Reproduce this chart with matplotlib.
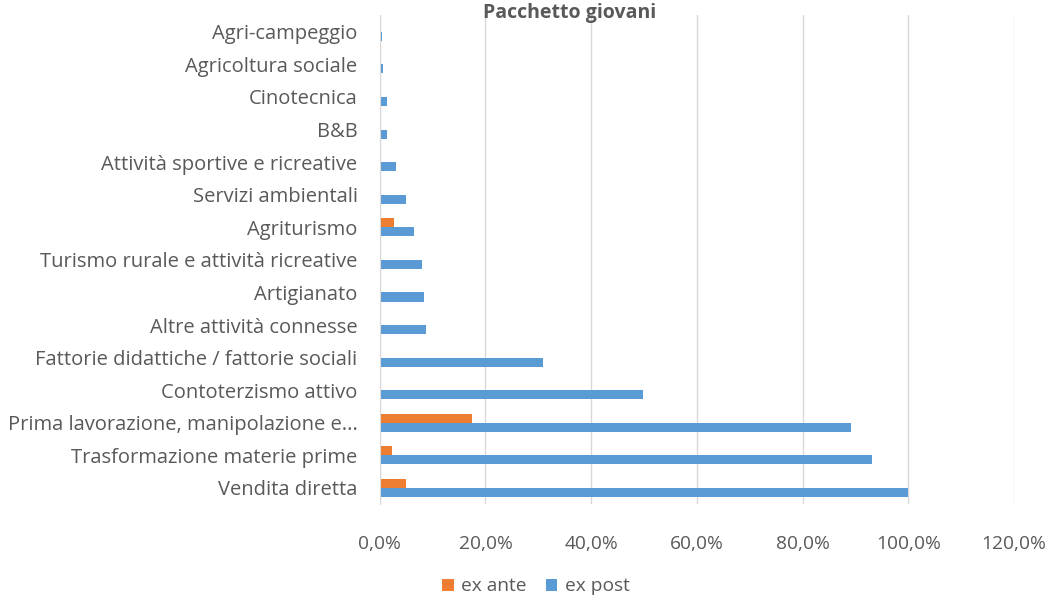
import numpy as np
import matplotlib.pyplot as plt
from matplotlib.ticker import FuncFormatter

plt.rcParams['font.family'] = ['Open Sans', 'DejaVu Sans']

# categories from bottom to top
categories = ['Vendita diretta', 'Trasformazione materie prime',
              'Prima lavorazione, manipolazione e...', 'Contoterzismo attivo',
              'Fattorie didattiche / fattorie sociali', 'Altre attività connesse',
              'Artigianato', 'Turismo rurale e attività ricreative', 'Agriturismo',
              'Servizi ambientali', 'Attività sportive e ricreative', 'B&B',
              'Cinotecnica', 'Agricoltura sociale', 'Agri-campeggio']
ex_ante = [5.0, 2.3, 17.5, 0.3, 0.0, 0.3, 0.0, 0.0, 2.6, 0.0, 0.0, 0.2, 0.0, 0.0, 0.0]
ex_post = [100.0, 93.1, 89.2, 49.9, 30.8, 8.7, 8.3, 8.0, 6.4, 4.9, 3.0, 1.45, 1.45, 0.7, 0.4]
xticks = [0, 20, 40, 60, 80, 100, 120]

grey = '#595959'
fig = plt.figure(figsize=(10.55, 5.96), dpi=100)
ax = fig.add_axes([0.360, 0.154, 0.601, 0.820])

y = np.arange(len(categories))
h = 0.28
ax.barh(y + h / 2, ex_ante, height=h, color='#ED7D31', label='ex ante')
ax.barh(y - h / 2, ex_post, height=h, color='#5B9BD5', label='ex post')

ax.set_xlim(0, 120)
ax.set_ylim(-0.5, len(categories) - 0.5)
ax.set_xticks(xticks)
ax.xaxis.set_major_formatter(FuncFormatter(lambda v, p: ('%.1f%%' % v).replace('.', ',')))
ax.set_yticks(y)
ax.set_yticklabels(categories)
ax.tick_params(axis='both', length=0, labelcolor=grey)
ax.tick_params(axis='y', pad=16, labelsize=14.5)
ax.tick_params(axis='x', pad=22, labelsize=13.8)
ax.grid(axis='x', color='#D9D9D9', linewidth=1)
ax.set_axisbelow(True)
for s in ['top', 'right', 'bottom']:
    ax.spines[s].set_visible(False)
ax.spines['left'].set_color('#D9D9D9')

fig.text(0.54, 0.978, 'Pacchetto giovani', ha='center', va='center',
         fontsize=14, fontweight='bold', color=grey)

fig.legend(loc='center', bbox_to_anchor=(0.508, 0.016), ncol=2, frameon=False,
           fontsize=13.8, labelcolor=grey, handlelength=0.6, handleheight=0.6,
           handletextpad=0.4, columnspacing=1.0)

plt.savefig('out.png', dpi=100)
